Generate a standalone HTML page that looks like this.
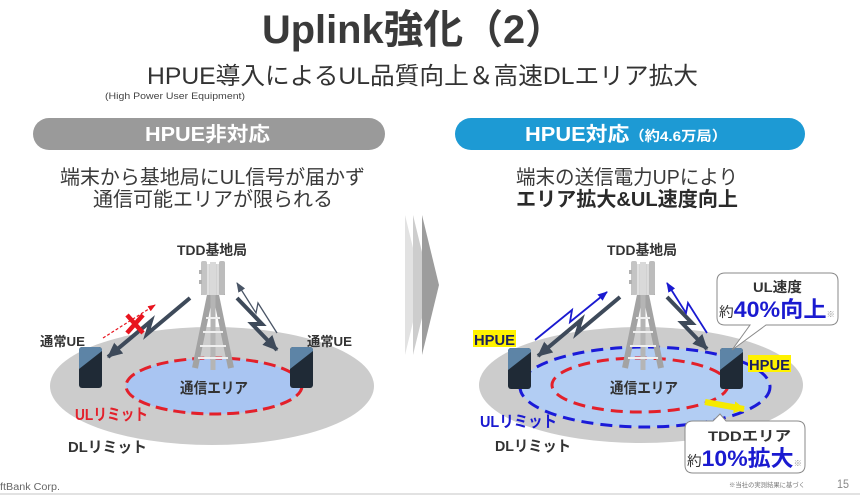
<!DOCTYPE html>
<html><head><meta charset="utf-8"><style>
html,body{margin:0;padding:0;background:#fff;width:860px;height:495px;overflow:hidden}
svg{display:block}
text{font-family:"Liberation Sans","Noto Sans CJK JP",sans-serif}
</style></head><body>
<svg width="860" height="495" viewBox="0 0 860 495" xmlns="http://www.w3.org/2000/svg">
<defs>
<marker id="hd" markerUnits="userSpaceOnUse" markerWidth="16" markerHeight="14" refX="14" refY="7" orient="auto"><path d="M0,0 L15,7 L0,14 z" fill="#3e4a5a"/></marker>
<marker id="hb" markerUnits="userSpaceOnUse" markerWidth="10" markerHeight="8" refX="9" refY="4" orient="auto"><path d="M0,0 L10,4 L0,8 z" fill="#1a1ad0"/></marker>
<marker id="hg" markerUnits="userSpaceOnUse" markerWidth="10" markerHeight="8" refX="9" refY="4" orient="auto"><path d="M0,0 L10,4 L0,8 z" fill="#4a5566"/></marker>
<marker id="hr" markerUnits="userSpaceOnUse" markerWidth="8" markerHeight="6" refX="7" refY="3" orient="auto"><path d="M0,0 L8,3 L0,6 z" fill="#e8141e"/></marker>
<marker id="hy" markerUnits="userSpaceOnUse" markerWidth="12" markerHeight="12" refX="10" refY="6" orient="auto"><path d="M0,0 L11,6 L0,12 z" fill="#f5ea00"/></marker>
<clipPath id="phc"><rect x="0" y="0" width="23" height="41" rx="3"/></clipPath>
<linearGradient id="ant" x1="0" x2="1" y1="0" y2="0">
<stop offset="0" stop-color="#b8b8b8"/><stop offset="0.3" stop-color="#e4e4e4"/><stop offset="0.5" stop-color="#a9a9a9"/><stop offset="0.7" stop-color="#e0e0e0"/><stop offset="1" stop-color="#a5a5a5"/>
</linearGradient>
</defs>

<!-- Title -->
<text x="262" y="43" font-size="40" font-weight="bold" fill="#3a3a3a" textLength="303" lengthAdjust="spacingAndGlyphs">Uplink強化（2）</text>
<text x="147" y="84" font-size="24" fill="#333" textLength="551" lengthAdjust="spacingAndGlyphs">HPUE導入によるUL品質向上＆高速DLエリア拡大</text>
<text x="105" y="99" font-size="9" fill="#444" textLength="140" lengthAdjust="spacingAndGlyphs">(High Power User Equipment)</text>

<!-- Pills -->
<rect x="33" y="118" width="352" height="32" rx="16" fill="#9a9a9a"/>
<text x="145" y="141" font-size="20" font-weight="bold" fill="#fff" textLength="125" lengthAdjust="spacingAndGlyphs">HPUE非対応</text>
<rect x="455" y="118" width="350" height="32" rx="16" fill="#1d9ad4"/>
<text x="525" y="141" font-size="20" font-weight="bold" fill="#fff" textLength="202" lengthAdjust="spacingAndGlyphs">HPUE対応<tspan font-size="14">（約4.6万局）</tspan></text>

<!-- Descriptions -->
<text x="60" y="184" font-size="20" fill="#3a3a3a" textLength="305" lengthAdjust="spacingAndGlyphs">端末から基地局にUL信号が届かず</text>
<text x="93" y="206" font-size="20" fill="#3a3a3a" textLength="240" lengthAdjust="spacingAndGlyphs">通信可能エリアが限られる</text>
<text x="516" y="184" font-size="20" fill="#3a3a3a" textLength="222" lengthAdjust="spacingAndGlyphs">端末の送信電力UPにより</text>
<text x="516" y="206" font-size="20" font-weight="bold" fill="#2a2a2a" textLength="222" lengthAdjust="spacingAndGlyphs">エリア拡大&amp;UL速度向上</text>

<!-- Chevrons -->
<polygon points="405,215 422,285 405,355" fill="#e2e2e2"/>
<polygon points="413,215 430,285 413,355" fill="#cdcdcd"/>
<polygon points="422,215 439,285 422,355" fill="#9d9d9d"/>

<!-- LEFT DIAGRAM -->
<ellipse cx="212" cy="386" rx="162" ry="59" fill="#cccccc"/>
<ellipse cx="214" cy="386" rx="88" ry="28" fill="#a9c5f2" stroke="#e3202a" stroke-width="3" stroke-dasharray="12,6"/>

<!-- RIGHT DIAGRAM -->
<ellipse cx="641" cy="385" rx="162" ry="58" fill="#cccccc"/>
<ellipse cx="645" cy="387" rx="125" ry="40" fill="#b2cdf3" stroke="#1a1ad8" stroke-width="3" stroke-dasharray="12,7"/>
<ellipse cx="640" cy="385" rx="88" ry="27" fill="none" stroke="#e3202a" stroke-width="3" stroke-dasharray="12,7"/>

<!-- Towers -->
<g id="tw1" transform="translate(213,0)">
  <line x1="-3" y1="295" x2="-18" y2="368" stroke="#a3a3a3" stroke-width="6"/>
  <line x1="3" y1="295" x2="18" y2="368" stroke="#a3a3a3" stroke-width="6"/>
  <line x1="0" y1="295" x2="0" y2="370" stroke="#b5b5b5" stroke-width="5"/>
  <line x1="-7" y1="318" x2="7" y2="318" stroke="#efefef" stroke-width="2"/>
  <line x1="-10" y1="332" x2="10" y2="332" stroke="#efefef" stroke-width="2"/>
  <line x1="-13" y1="346" x2="13" y2="346" stroke="#efefef" stroke-width="2"/>
  <line x1="-15" y1="358" x2="15" y2="358" stroke="#efefef" stroke-width="2"/>
  <rect x="-12" y="264" width="24" height="31" fill="url(#ant)"/>
  <rect x="-12" y="261" width="6" height="34" rx="2" fill="#c4c4c4"/>
  <rect x="6" y="261" width="6" height="34" rx="2" fill="#bcbcbc"/>
  <rect x="-3" y="262" width="6" height="33" fill="#d9d9d9"/>
  <rect x="-14" y="270" width="3" height="4" fill="#b0b0b0"/>
  <rect x="-14" y="280" width="3" height="4" fill="#b0b0b0"/>
</g>
<g transform="translate(643,0)">
  <line x1="-3" y1="295" x2="-18" y2="368" stroke="#a3a3a3" stroke-width="6"/>
  <line x1="3" y1="295" x2="18" y2="368" stroke="#a3a3a3" stroke-width="6"/>
  <line x1="0" y1="295" x2="0" y2="370" stroke="#b5b5b5" stroke-width="5"/>
  <line x1="-7" y1="318" x2="7" y2="318" stroke="#efefef" stroke-width="2"/>
  <line x1="-10" y1="332" x2="10" y2="332" stroke="#efefef" stroke-width="2"/>
  <line x1="-13" y1="346" x2="13" y2="346" stroke="#efefef" stroke-width="2"/>
  <line x1="-15" y1="358" x2="15" y2="358" stroke="#efefef" stroke-width="2"/>
  <rect x="-12" y="264" width="24" height="31" fill="url(#ant)"/>
  <rect x="-12" y="261" width="6" height="34" rx="2" fill="#c4c4c4"/>
  <rect x="6" y="261" width="6" height="34" rx="2" fill="#bcbcbc"/>
  <rect x="-3" y="262" width="6" height="33" fill="#d9d9d9"/>
  <rect x="-14" y="270" width="3" height="4" fill="#b0b0b0"/>
  <rect x="-14" y="280" width="3" height="4" fill="#b0b0b0"/>
</g>

<!-- Left arrows -->
<polyline points="190,298 147,334 151,321 108,357" fill="none" stroke="#3e4a5a" stroke-width="4" stroke-linejoin="miter" marker-end="url(#hd)"/>
<line x1="103" y1="338" x2="155" y2="305" stroke="#e8141e" stroke-width="1.2" stroke-dasharray="3,2" marker-end="url(#hr)"/>
<line x1="127" y1="315" x2="143" y2="333" stroke="#e8141e" stroke-width="4.5"/>
<line x1="143" y1="315" x2="127" y2="333" stroke="#e8141e" stroke-width="4.5"/>
<polyline points="237,298 262,324 252,324 277,350" fill="none" stroke="#3e4a5a" stroke-width="4" marker-end="url(#hd)"/>
<polyline points="277,333 258,303 256,313 237,283" fill="none" stroke="#4a5566" stroke-width="1.3" marker-end="url(#hg)"/>

<!-- Right arrows -->
<g transform="translate(430,-1)">
<polyline points="190,298 147,334 151,321 108,357" fill="none" stroke="#3e4a5a" stroke-width="4" marker-end="url(#hd)"/>
<polyline points="237,298 262,324 252,324 277,350" fill="none" stroke="#3e4a5a" stroke-width="4" marker-end="url(#hd)"/>
</g>
<polyline points="535,340 572,310 570,322 607,292" fill="none" stroke="#1a1ad0" stroke-width="1.8" marker-end="url(#hb)"/>
<polyline points="707,333 688,303 686,313 667,283" fill="none" stroke="#1a1ad0" stroke-width="1.8" marker-end="url(#hb)"/>

<!-- Yellow arrow -->
<line x1="705" y1="402" x2="744" y2="409" stroke="#f5ea00" stroke-width="6" marker-end="url(#hy)"/>

<!-- Phones -->
<g transform="translate(79,347)"><g clip-path="url(#phc)"><rect width="23" height="41" fill="#1f2a36"/><polygon points="0,0 23,0 23,4 0,22" fill="#5d84a6"/></g></g>
<g transform="translate(290,347)"><g clip-path="url(#phc)"><rect width="23" height="41" fill="#1f2a36"/><polygon points="0,0 23,0 23,4 0,22" fill="#5d84a6"/></g></g>
<g transform="translate(508,348)"><g clip-path="url(#phc)"><rect width="23" height="41" fill="#1f2a36"/><polygon points="0,0 23,0 23,4 0,22" fill="#5d84a6"/></g></g>
<g transform="translate(720,348)"><g clip-path="url(#phc)"><rect width="23" height="41" fill="#1f2a36"/><polygon points="0,0 23,0 23,4 0,22" fill="#5d84a6"/></g></g>

<!-- Left labels -->
<text x="177" y="255" font-size="14" font-weight="bold" fill="#333" textLength="70" lengthAdjust="spacingAndGlyphs">TDD基地局</text>
<text x="40" y="346" font-size="13" font-weight="bold" fill="#333" textLength="45" lengthAdjust="spacingAndGlyphs">通常UE</text>
<text x="307" y="346" font-size="13" font-weight="bold" fill="#333" textLength="45" lengthAdjust="spacingAndGlyphs">通常UE</text>
<text x="180" y="393" font-size="15" font-weight="bold" fill="#333" textLength="68" lengthAdjust="spacingAndGlyphs">通信エリア</text>
<text x="75" y="420" font-size="16" font-weight="bold" fill="#e3202a" textLength="73" lengthAdjust="spacingAndGlyphs">ULリミット</text>
<text x="68" y="452" font-size="15" font-weight="bold" fill="#333" textLength="79" lengthAdjust="spacingAndGlyphs">DLリミット</text>

<!-- Right labels -->
<text x="607" y="255" font-size="14" font-weight="bold" fill="#333" textLength="70" lengthAdjust="spacingAndGlyphs">TDD基地局</text>
<rect x="473" y="330" width="43" height="17" fill="#fff200"/>
<text x="474" y="345" font-size="15" font-weight="bold" fill="#1b1f5e" textLength="41" lengthAdjust="spacingAndGlyphs">HPUE</text>
<rect x="748" y="355" width="43" height="17" fill="#fff200"/>
<text x="749" y="370" font-size="15" font-weight="bold" fill="#1b1f5e" textLength="41" lengthAdjust="spacingAndGlyphs">HPUE</text>
<text x="610" y="393" font-size="15" font-weight="bold" fill="#333" textLength="68" lengthAdjust="spacingAndGlyphs">通信エリア</text>
<text x="480" y="427" font-size="16" font-weight="bold" fill="#1a1ad0" textLength="77" lengthAdjust="spacingAndGlyphs">ULリミット</text>
<text x="495" y="451" font-size="15" font-weight="bold" fill="#333" textLength="76" lengthAdjust="spacingAndGlyphs">DLリミット</text>

<!-- Callout 1 -->
<path d="M725,273 H830 Q838,273 838,281 V317 Q838,325 830,325 H766 L732,350 L750,325 H725 Q717,325 717,317 V281 Q717,273 725,273 Z" fill="#fff" stroke="#8a8a8a" stroke-width="1"/>
<text x="753" y="292" font-size="14" font-weight="bold" fill="#333" textLength="49" lengthAdjust="spacingAndGlyphs">UL速度</text>
<text x="719" y="317" font-size="14" fill="#333" textLength="116" lengthAdjust="spacingAndGlyphs">約<tspan font-size="22" font-weight="bold" fill="#1a1ad0">40%向上</tspan><tspan font-size="8" fill="#999">※</tspan></text>

<!-- Callout 2 -->
<path d="M693,421 H713 L720,414 L726,421 H797 Q805,421 805,429 V465 Q805,473 797,473 H693 Q685,473 685,465 V429 Q685,421 693,421 Z" fill="#fff" stroke="#8a8a8a" stroke-width="1"/>
<text x="708" y="441" font-size="14" font-weight="bold" fill="#333" textLength="83" lengthAdjust="spacingAndGlyphs">TDDエリア</text>
<text x="687" y="466" font-size="14" fill="#333" textLength="115" lengthAdjust="spacingAndGlyphs">約<tspan font-size="22" font-weight="bold" fill="#1a1ad0">10%拡大</tspan><tspan font-size="8" fill="#999">※</tspan></text>

<!-- Footer -->
<text x="729" y="487" font-size="6.5" fill="#777" textLength="76" lengthAdjust="spacingAndGlyphs">※当社の実測結果に基づく</text>
<text x="837" y="488" font-size="12" fill="#888" textLength="12" lengthAdjust="spacingAndGlyphs">15</text>
<text x="0" y="490" font-size="10" fill="#666" textLength="60" lengthAdjust="spacingAndGlyphs">ftBank Corp.</text>
<rect x="0" y="493" width="860" height="2" fill="#e2e2e2"/>
</svg>
</body></html>
